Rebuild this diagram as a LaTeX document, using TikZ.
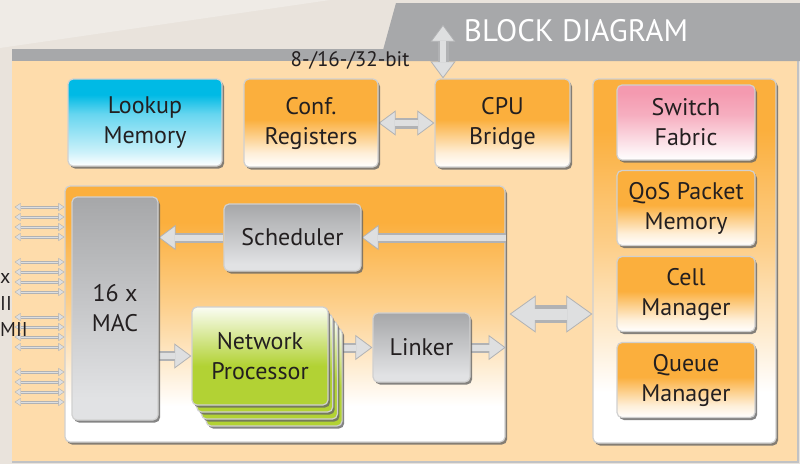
\documentclass[tikz,border=0pt]{standalone}
\usepackage{fontspec}
\setmainfont{PT Sans}
\usetikzlibrary{arrows.meta,shadows}
\pgfdeclarelayer{bglayer}
\pgfdeclarelayer{edgelayer}
\pgfdeclarelayer{nodelayer}
\pgfsetlayers{bglayer,edgelayer,nodelayer,main}

\definecolor{backdrop}{HTML}{E9E3DC}
\definecolor{backlight}{HTML}{EFEBE6}
\definecolor{peach}{HTML}{FEDCAB}
\definecolor{band}{HTML}{A7A8AA}
\definecolor{orng}{HTML}{FBAF3D}
\definecolor{cyn}{HTML}{00BAE5}
\definecolor{pnk}{HTML}{F49AB0}
\definecolor{grn}{HTML}{B2D234}
\definecolor{greytop}{HTML}{A6A7A9}
\definecolor{greybot}{HTML}{E1E2E4}
\definecolor{arrdark}{HTML}{B1B2B4}
\definecolor{arrlight}{HTML}{DEDFE0}
\definecolor{ink}{HTML}{231F20}
\definecolor{rim}{HTML}{D0D0D0}

\pgfdeclareverticalshading{orangefade}{100bp}{color(0bp)=(white); color(25bp)=(white); color(33bp)=(orng!20!white); color(52bp)=(orng); color(100bp)=(orng)}
\pgfdeclareverticalshading{cyanfade}{100bp}{color(0bp)=(white); color(25bp)=(white); color(33bp)=(cyn!20!white); color(55bp)=(cyn!60!white); color(66bp)=(cyn); color(100bp)=(cyn)}
\pgfdeclareverticalshading{pinkfade}{100bp}{color(0bp)=(white); color(25bp)=(white); color(33bp)=(pnk!20!white); color(55bp)=(pnk!80!white); color(70bp)=(pnk); color(100bp)=(pnk)}
\pgfdeclareverticalshading{greenfade}{100bp}{color(0bp)=(grn); color(45bp)=(grn); color(75bp)=(grn!6!white); color(100bp)=(grn!6!white)}
\pgfdeclareverticalshading{greyfade}{100bp}{color(0bp)=(greybot); color(30bp)=(greybot); color(75bp)=(greytop); color(100bp)=(greytop)}
\pgfdeclareverticalshading{corefade}{100bp}{color(0bp)=(white); color(32bp)=(white); color(52bp)=(orng!60!white); color(68bp)=(orng); color(100bp)=(orng)}

\tikzset{font=\fontsize{24}{30}\selectfont}
\tikzstyle{none}=[inner sep=0pt]
\tikzstyle{block}=[rectangle,rounded corners=5pt,draw=rim,line width=1.2pt,text=ink,align=center,drop shadow={shadow xshift=2pt,shadow yshift=-2.5pt,fill=black!60,opacity=.8}]
\tikzstyle{orangeblock}=[block,shading=orangefade]
\tikzstyle{cyanblock}=[block,shading=cyanfade]
\tikzstyle{pinkblock}=[block,shading=pinkfade]
\tikzstyle{greenblock}=[block,shading=greenfade]
\tikzstyle{greyblock}=[block,shading=greyfade]
\tikzstyle{fat}=[line width=10pt,draw=arrdark,-{Triangle[width=25pt,length=17pt,line width=.8pt,fill=arrlight]},postaction={draw=arrlight,line width=6pt,-,shorten >=16pt}]
\tikzstyle{fatboth}=[line width=11pt,draw=arrdark,{Triangle[width=25pt,length=17pt,line width=.8pt,fill=arrlight]}-{Triangle[width=25pt,length=17pt,line width=.8pt,fill=arrlight]},postaction={draw=arrlight,line width=6pt,-,shorten >=16pt,shorten <=16pt}]
\tikzstyle{bigboth}=[line width=18pt,draw=arrdark,{Triangle[width=37pt,length=26pt,line width=.8pt,fill=arrlight]}-{Triangle[width=37pt,length=26pt,line width=.8pt,fill=arrlight]},postaction={draw=arrlight,line width=11pt,-,shorten >=25pt,shorten <=25pt}]
\tikzstyle{lane}=[line width=3pt,draw=arrdark,{Triangle[width=8pt,length=6pt,line width=.4pt,fill=arrlight]}-{Triangle[width=8pt,length=6pt,line width=.4pt,fill=arrlight]},postaction={draw=arrlight,line width=1pt,-,shorten >=6pt,shorten <=6pt}]

\begin{document}
\begin{tikzpicture}[x=1pt,y=-1pt]
	\useasboundingbox (0,0) rectangle (800,464);
	\begin{pgfonlayer}{bglayer}
		\fill[backdrop] (0,0) rectangle (800,464);
		\fill[backlight] (0,0) -- (330,0) -- (0,48) -- cycle;
		\fill[peach] (12,61) rectangle (797,461);
		\draw[band!70,line width=2pt] (12,462) -- (798,462) -- (798,61);
		\fill[band] (12,49) rectangle (800,61);
		\fill[band] (380,61) -- (396,3) -- (800,3) -- (800,61) -- cycle;
		\node [style=block,shading=corefade,minimum width=440pt,minimum height=256pt] (core) at (285,314) {};
		\node [style=block,shading=corefade,minimum width=183pt,minimum height=364pt] (rcol) at (684.5,261) {};
	\end{pgfonlayer}
	\begin{pgfonlayer}{nodelayer}
		\node [style=cyanblock,minimum width=154pt,minimum height=87pt] (lookup) at (145,122.5) {Lookup\\Memory};
		\node [style=orangeblock,minimum width=134pt,minimum height=88pt] (conf) at (311,123) {Conf.\\Registers};
		\node [style=orangeblock,minimum width=135pt,minimum height=88pt] (cpu) at (502.5,123) {CPU\\Bridge};
		\node [style=pinkblock,minimum width=138pt,minimum height=75pt] (fabric) at (686,122.5) {Switch\\Fabric};
		\node [style=orangeblock,minimum width=138pt,minimum height=75pt] (qos) at (686,208) {QoS Packet\\Memory};
		\node [style=orangeblock,minimum width=138pt,minimum height=75pt] (cell) at (686,294) {Cell\\Manager};
		\node [style=orangeblock,minimum width=138pt,minimum height=75pt] (queue) at (686,380) {Queue\\Manager};
		\node [style=greyblock,minimum width=86pt,minimum height=223pt] (mac) at (115,308.5) {16 x\\MAC};
		\node [style=greyblock,minimum width=137pt,minimum height=67pt] (sched) at (292.5,237.5) {Scheduler};
		\node [style=greenblock,minimum width=136pt,minimum height=98pt] (np3) at (274.1,377) {};
		\node [style=greenblock,minimum width=136pt,minimum height=98pt] (np2) at (269.4,370) {};
		\node [style=greenblock,minimum width=136pt,minimum height=98pt] (np1) at (264.7,363) {};
		\node [style=greenblock,minimum width=136pt,minimum height=98pt] (np) at (260,356) {Network\\Processor};
		\node [style=greyblock,minimum width=97pt,minimum height=69pt] (linker) at (421.5,347.5) {Linker};
		\node [style=none] (hostbus) at (443,24) {};
	\end{pgfonlayer}
	\begin{pgfonlayer}{edgelayer}
		\draw[style=fatboth] (hostbus) to (hostbus |- cpu.north);
		\draw[style=fatboth] (conf.east) to (cpu.west);
		\draw[style=fat] (sched.east -| core.east) to (sched.east);
		\draw[style=fat] (sched.west) to (sched.west -| mac.east);
		\draw[style=fat] (mac.east |- np.west) to (np.west);
		\draw[style=fat] (linker.west -| np3.east) to (linker.west);
		\draw[style=fat] (linker.east) to (linker.east -| core.east);
		\draw[style=bigboth,shorten <=4pt] (core.east) to (core.east -| rcol.west);
		\foreach \g in {0,...,3}
			\foreach \k in {0,...,3} {
				\node [style=none] (phy\g\k) at (14,{207+55*\g+10*\k}) {};
				\draw[style=lane] (phy\g\k) to (phy\g\k -| core.west);
			}
	\end{pgfonlayer}
	\node [text=white,font=\fontsize{31}{36}\selectfont] (title) at (576,31) {BLOCK DIAGRAM};
	\node [text=ink,font=\fontsize{21}{24}\selectfont] (buswidth) at (350,60) {8-/16-/32-bit};
	\node [style=none,anchor=west,text=ink,font=\fontsize{20}{24}\selectfont] (ifa) at (0,278) {x};
	\node [style=none,anchor=west,text=ink,font=\fontsize{20}{24}\selectfont] (ifb) at (0,303) {II};
	\node [style=none,anchor=west,text=ink,font=\fontsize{20}{24}\selectfont] (ifc) at (0,329) {MII};
\end{tikzpicture}
\end{document}
